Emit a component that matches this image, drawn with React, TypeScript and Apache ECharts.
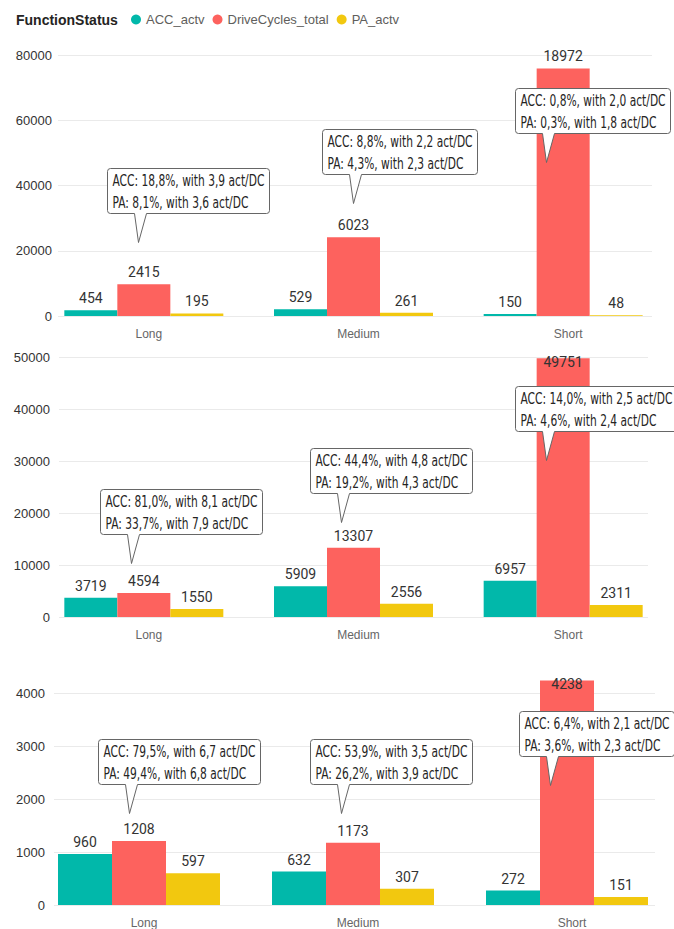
import React, { useEffect, useRef } from 'react';
import * as echarts from 'echarts';

// ---------- data ----------
const categories = ['Long', 'Medium', 'Short'];
const seriesNames = ['ACC_actv', 'DriveCycles_total', 'PA_actv'];

const p1AccBars = [1800, 2100, 600];
const p1DcBars = [9700, 24100, 75900];
const p1PaBars = [800, 1000, 200];
const p1AccLabels = [454, 529, 150];
const p1DcLabels = [2415, 6023, 18972];
const p1PaLabels = [195, 261, 48];
const p1AccPct = [18.8, 8.8, 0.8];
const p1AccAct = [3.9, 2.2, 2.0];
const p1PaPct = [8.1, 4.3, 0.3];
const p1PaAct = [3.6, 2.3, 1.8];
const p1CalloutAt = [22800, 34600, 47300];
const p1Ticks = [0, 20000, 40000, 60000, 80000];

// Panel 2
const p2Acc = [3719, 5909, 6957];
const p2Dc = [4594, 13307, 49751];
const p2Pa = [1550, 2556, 2311];
const p2AccPct = [81.0, 44.4, 14.0];
const p2AccAct = [8.1, 4.8, 2.5];
const p2PaPct = [33.7, 19.2, 4.6];
const p2PaAct = [7.9, 4.3, 2.4];
const p2CalloutAt = [10300, 18300, 30200];
const p2Ticks = [0, 10000, 20000, 30000, 40000, 50000];

// Panel 3
const p3Acc = [960, 632, 272];
const p3Dc = [1208, 1173, 4238];
const p3Pa = [597, 307, 151];
const p3AccPct = [79.5, 53.9, 6.4];
const p3AccAct = [6.7, 3.5, 2.1];
const p3PaPct = [49.4, 26.2, 3.6];
const p3PaAct = [6.8, 3.9, 2.3];
const p3CalloutAt = [1730, 1730, 2260];
const p3Ticks = [0, 1000, 2000, 3000, 4000];

const panelsData = [
  { bars: [p1AccBars, p1DcBars, p1PaBars], labels: [p1AccLabels, p1DcLabels, p1PaLabels], accPct: p1AccPct, accAct: p1AccAct, paPct: p1PaPct, paAct: p1PaAct, calloutAt: p1CalloutAt, ticks: p1Ticks },
  { bars: [p2Acc, p2Dc, p2Pa], labels: [p2Acc, p2Dc, p2Pa], accPct: p2AccPct, accAct: p2AccAct, paPct: p2PaPct, paAct: p2PaAct, calloutAt: p2CalloutAt, ticks: p2Ticks },
  { bars: [p3Acc, p3Dc, p3Pa], labels: [p3Acc, p3Dc, p3Pa], accPct: p3AccPct, accAct: p3AccAct, paPct: p3PaPct, paAct: p3PaAct, calloutAt: p3CalloutAt, ticks: p3Ticks },
];

// ---------- layout & style ----------
const COLORS = ['#01B8AA', '#FD625E', '#F2C80F'];
const layouts = [
  { top: 55, bottom: 613, lineLeft: 58, lineRight: 22, barLeft: 39, barRight: 6, barWidth: 53, labelMargin: 6, tipDx: [-5.5, -0.5, -17] },
  { top: 357, bottom: 312, lineLeft: 59, lineRight: 26, barLeft: 39, barRight: 6, barWidth: 53, labelMargin: 9, tipDx: [-13, -12.5, -17.3] },
  { top: 693, bottom: 24, lineLeft: 54, lineRight: 19, barLeft: 32, barRight: -2, barWidth: 54, labelMargin: 9, tipDx: [-10.5, -11.7, -17.3] },
];

const UI_FONT = '"Liberation Sans", Arial, sans-serif';
const LABEL_FONT = 'Roboto, "DejaVu Sans", sans-serif';
const CALLOUT_FAMILY = '"Liberation Sans Narrow", "DejaVu Sans Condensed", Roboto, sans-serif';
const CALLOUT_SIZE = 15;
const BOX_H = 45;
const TAIL = 29;

let measureCtx: CanvasRenderingContext2D | null = null;
function measureCallout(t: string): number {
  if (!measureCtx) measureCtx = document.createElement('canvas').getContext('2d');
  if (!measureCtx) return t.length * 7;
  measureCtx.font = `${CALLOUT_SIZE}px ${CALLOUT_FAMILY}`;
  return measureCtx.measureText(t).width;
}

const fmt = (n: number) => n.toFixed(1).replace('.', ',');

function calloutPath(w: number): string {
  const r = 3;
  const H = BOX_H;
  return `M${r} 0 H${w - r} Q${w} 0 ${w} ${r} V${H - r} Q${w} ${H} ${w - r} ${H} H39 L31 ${H + TAIL} L27 ${H} H${r} Q0 ${H} 0 ${H - r} V${r} Q0 0 ${r} 0 Z`;
}

function buildOption() {
  const sx = 152 / measureCallout('ACC: 18,8%, with 3,9 act/DC');
  const grid: any[] = [];
  const xAxis: any[] = [];
  const yAxis: any[] = [];
  const series: any[] = [];

  panelsData.forEach((pd, i) => {
    const L = layouts[i];
    const min = pd.ticks[0];
    const max = pd.ticks[pd.ticks.length - 1];
    const interval = pd.ticks[1] - pd.ticks[0];
    const gLine = 2 * i;
    const gBar = 2 * i + 1;

    grid.push({ left: L.lineLeft, right: L.lineRight, top: L.top, bottom: L.bottom });
    grid.push({ left: L.barLeft, right: L.barRight, top: L.top, bottom: L.bottom });

    xAxis.push({ type: 'value', gridIndex: gLine, show: false, min: 0, max: 1 });
    xAxis.push({
      type: 'category', gridIndex: gBar, data: categories,
      axisLine: { show: false }, axisTick: { show: false },
      axisLabel: { color: '#666666', fontSize: 12, fontFamily: UI_FONT, margin: 12, padding: [0, 0, 0, 10] },
    });

    yAxis.push({
      type: 'value', gridIndex: gLine, min, max, interval,
      axisLine: { show: false }, axisTick: { show: false },
      axisLabel: { color: '#333333', fontSize: 13, fontFamily: UI_FONT, margin: L.labelMargin, formatter: (v: number) => String(v) },
      splitLine: { lineStyle: { color: '#EAEAEA', width: 1 } },
    });
    yAxis.push({ type: 'value', gridIndex: gBar, min, max, show: false, splitLine: { show: false } });

    seriesNames.forEach((name, s) => {
      const vals = pd.bars[s];
      const lbls = pd.labels[s];
      series.push({
        type: 'bar', name, xAxisIndex: gBar, yAxisIndex: gBar,
        barWidth: L.barWidth, barGap: '0%', clip: false,
        itemStyle: { color: COLORS[s] },
        data: vals.map((v) =>
          v > max * 0.97
            ? { value: v, label: { position: 'insideTop', distance: 0, offset: [0, -3] } }
            : v
        ),
        label: {
          show: true, position: 'top', distance: 5,
          fontFamily: LABEL_FONT, fontSize: 14, fontWeight: 'normal', color: '#333333',
          formatter: (p: any) => String(lbls[p.dataIndex]),
        },
        z: 2,
      });
    });

    const texts = categories.map((_, k) => [
      `ACC: ${fmt(pd.accPct[k])}%, with ${fmt(pd.accAct[k])} act/DC`,
      `PA: ${fmt(pd.paPct[k])}%, with ${fmt(pd.paAct[k])} act/DC`,
    ]);

    series.push({
      type: 'custom', name: 'callouts', xAxisIndex: gBar, yAxisIndex: gBar,
      silent: true, clip: false, z: 10,
      data: categories.map((_, k) => [k, pd.calloutAt[k]]),
      encode: { x: 0, y: 1 },
      renderItem: (params: any, api: any) => {
        const k = params.dataIndex;
        const pt = api.coord([api.value(0), api.value(1)]);
        const lines = texts[k];
        const tw = Math.max(...lines.map(measureCallout)) * sx;
        const w = Math.round(tw + 10);
        const left = Math.round(pt[0] + L.tipDx[k] - 31) + 0.5;
        const top = Math.round(pt[1] - TAIL - BOX_H) + 0.5;
        return {
          type: 'group', x: left, y: top,
          children: [
            { type: 'path', shape: { pathData: calloutPath(w) }, style: { fill: '#ffffff', stroke: '#666666', lineWidth: 1 } },
            ...lines.map((t, j) => ({
              type: 'text', x: 5, y: 12 + 22 * j, scaleX: sx,
              style: { text: t, fontSize: CALLOUT_SIZE, fontFamily: CALLOUT_FAMILY, fill: '#252423', align: 'left', verticalAlign: 'middle' },
            })),
          ],
        };
      },
    });
  });

  return {
    animation: false,
    backgroundColor: '#ffffff',
    textStyle: { fontFamily: UI_FONT },
    title: {
      text: 'FunctionStatus', left: 16, top: 13, padding: 0,
      textStyle: { fontSize: 14, fontWeight: 'bold', color: '#252423', fontFamily: UI_FONT },
    },
    legend: {
      data: seriesNames, left: 131, top: 13, padding: 0, icon: 'circle',
      itemWidth: 10, itemHeight: 10, itemGap: 8, selectedMode: false,
      textStyle: { fontSize: 13, color: '#605E5C', fontFamily: UI_FONT },
    },
    grid, xAxis, yAxis, series,
  };
}

export default function App() {
  const ref = useRef<HTMLDivElement>(null);
  useEffect(() => {
    if (!ref.current) return;
    const chart = echarts.init(ref.current, undefined, { renderer: 'svg' });
    chart.setOption(buildOption() as any);
    return () => chart.dispose();
  }, []);
  return <div ref={ref} style={{ position: 'fixed', left: 0, top: 0, width: 674, height: 929 }} />;
}
